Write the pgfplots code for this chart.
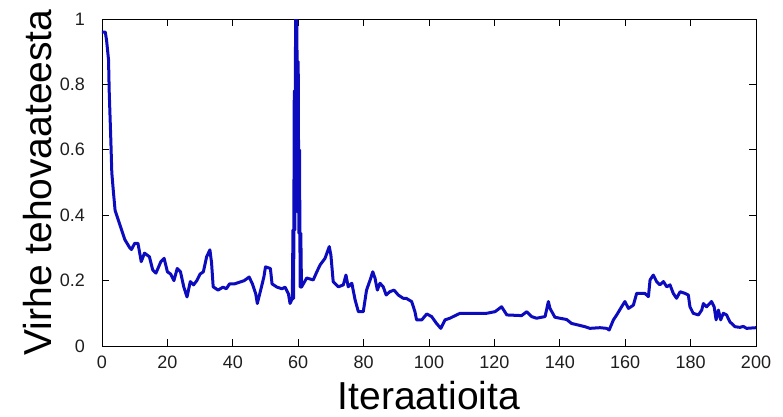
\documentclass[border=0pt]{standalone}
\usepackage{pgfplots}
\pgfplotsset{compat=1.18}
\usepackage{fontspec}
\setmainfont{Liberation Sans}
\definecolor{mblue}{RGB}{12,12,190}
\begin{document}
\begin{tikzpicture}
\begin{axis}[
  at={(0pt,0pt)}, anchor=south west,
  scale only axis, width=654pt, height=327pt,
  xmin=0, xmax=200, ymin=0, ymax=1,
  xtick={0,20,...,200}, ytick={0,0.2,...,1},
  tick align=inside, major tick length=7pt,
  axis line style={line width=0.8pt}, every tick/.style={black, line width=0.8pt},
  /pgf/number format/assume math mode=true,
  /pgf/number format/.cd, fixed, precision=1, /pgfplots/.cd,
  ticklabel style={font=\fontsize{18}{20}\selectfont, color={rgb,255:red,30;green,30;blue,30}},
  xticklabel style={anchor=base, yshift=-22pt, inner sep=0pt},
  yticklabel style={anchor=east, xshift=-17pt, inner sep=0pt},
  xlabel={Iteraatioita},
  ylabel={Virhe tehovaateesta},
  every axis x label/.style={at={(axis description cs:0.5,0)}, anchor=base, yshift=-63pt, inner sep=0pt, font=\fontsize{39}{44}\selectfont},
  every axis y label/.style={at={([xshift=-50pt]axis description cs:0,0.5)}, anchor=base, rotate=90, inner sep=0pt, font=\fontsize{39}{44}\selectfont},
  clip=true,
]
\addplot[color=mblue, line width=3pt, line join=round] table {
x y
0 0.96
1 0.96
1.4 0.935
2 0.875
2.2 0.78
2.7 0.63
3 0.53
3.5 0.47
4 0.415
5 0.385
6 0.355
7 0.325
8.5 0.30
9 0.295
10 0.314
11 0.314
12 0.258
13 0.284
14.5 0.273
15.5 0.233
16.5 0.223
18 0.258
19 0.268
20 0.227
21 0.22
22 0.20
23 0.237
24 0.227
25 0.181
26 0.15
27 0.197
28 0.187
29 0.20
30 0.22
31 0.227
32 0.273
33 0.294
33.5 0.255
34 0.181
35.5 0.171
37 0.18
38 0.175
39 0.19
40.5 0.19
42 0.195
43.5 0.20
45 0.211
46 0.19
47 0.16
47.5 0.13
48.5 0.17
49.5 0.211
50 0.242
51.5 0.237
52 0.19
53.5 0.18
55 0.175
56 0.18
57 0.16
57.5 0.13
58.2 0.145
58.4 0.355
58.6 0.145
58.8 0.78
59.0 0.355
59.2 1.0
59.4 0.78
59.6 1.0
59.8 0.41
60.0 0.87
60.2 0.345
60.4 0.6
60.6 0.18
60.8 0.345
61.0 0.18
62.6 0.208
64.6 0.202
65.7 0.227
66.7 0.248
68.2 0.268
69.5 0.304
70 0.278
70.7 0.197
72.3 0.181
73.8 0.187
74.6 0.217
75.3 0.181
76.4 0.192
77.4 0.141
78.4 0.105
79.9 0.105
80.9 0.171
82 0.202
82.8 0.227
83.5 0.207
84.2 0.171
85 0.192
86 0.181
86.9 0.156
88 0.166
89.3 0.171
90.6 0.156
92.1 0.146
93 0.146
94.7 0.136
95.7 0.105
96.2 0.08
97.8 0.08
99.3 0.098
100.8 0.09
102.3 0.069
103.6 0.054
104.9 0.08
106.4 0.085
107.4 0.09
109.5 0.1
111.5 0.1
117.6 0.1
120.2 0.105
122.2 0.12
123.8 0.095
128.3 0.093
129.9 0.105
131.4 0.09
132.9 0.085
135.5 0.09
136.5 0.136
137 0.115
138.5 0.088
140 0.085
142.1 0.081
143.6 0.069
145.7 0.064
147.7 0.059
149.2 0.054
152.3 0.056
154.3 0.054
155.1 0.049
156.4 0.08
157.4 0.095
158.9 0.12
159.9 0.136
161 0.115
162.5 0.125
163.5 0.161
166 0.161
167.1 0.151
167.6 0.202
168.6 0.217
169.6 0.197
170.6 0.187
171.7 0.197
172.7 0.181
173.7 0.187
174.7 0.161
175.7 0.146
176.8 0.166
178.3 0.161
179.3 0.156
179.8 0.12
180.8 0.1
182.4 0.095
183.4 0.11
183.9 0.13
184.9 0.12
186.4 0.136
187.2 0.12
187.8 0.08
188.5 0.11
189.2 0.08
190 0.1
191 0.095
192 0.074
193.6 0.059
195.1 0.057
196.1 0.06
197.1 0.054
200 0.056
};
\end{axis}
\pgfresetboundingbox
\path[use as bounding box] (-102pt,-70pt) rectangle (681pt,346pt);
\end{tikzpicture}
\end{document}
